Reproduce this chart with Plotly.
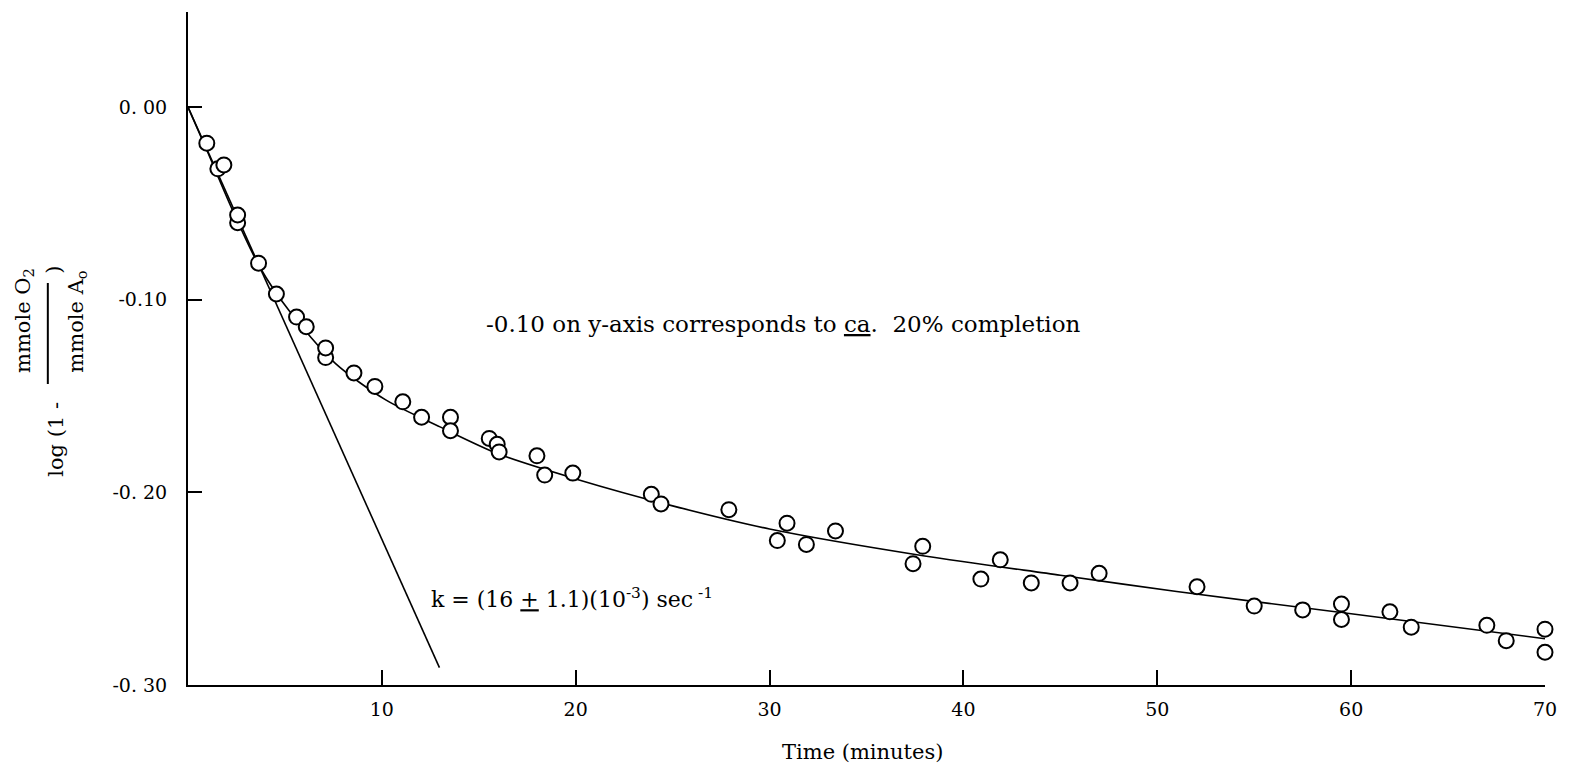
import plotly.graph_objects as go

# Measured points: time (minutes) vs log(1 - mmole O2 / mmole A0)
time_min = [0.97, 1.54, 1.85, 2.56, 2.56, 3.64, 4.56, 5.6, 6.1, 7.1, 7.1,
            8.56, 9.64, 11.08, 12.05, 13.54, 13.54, 15.54, 15.95, 16.05,
            18.0, 18.4, 19.85, 23.9, 24.4, 27.9, 30.4, 30.9, 31.9, 33.4,
            37.4, 37.9, 40.9, 41.9, 43.5, 45.5, 47.0, 52.05, 55.0, 57.5,
            59.5, 59.5, 62.0, 63.1, 67.0, 68.0, 70.0, 70.0]
log_frac = [-0.0187, -0.032, -0.030, -0.060, -0.056, -0.081, -0.097, -0.109,
            -0.114, -0.130, -0.125, -0.138, -0.145, -0.153, -0.161, -0.161,
            -0.168, -0.172, -0.175, -0.179, -0.181, -0.191, -0.190, -0.201,
            -0.206, -0.209, -0.225, -0.216, -0.227, -0.220, -0.237, -0.228,
            -0.245, -0.235, -0.247, -0.247, -0.242, -0.249, -0.259, -0.261,
            -0.258, -0.266, -0.262, -0.270, -0.269, -0.277, -0.271, -0.283]

# Smooth curve drawn through the data
fit_t = [0, 1, 2.3, 3.7, 5.2, 7.6, 10.2, 13, 16, 20, 25, 30, 38, 45, 51, 60, 70]
fit_y = [0, -0.023, -0.0535, -0.083, -0.1055, -0.133, -0.152, -0.166, -0.180,
         -0.193, -0.207, -0.219, -0.233, -0.243, -0.2515, -0.263, -0.276]

# Initial-slope line
tangent_t = [0, 12.97]
tangent_y = [0, -0.291]

x_tickvals = [10, 20, 30, 40, 50, 60, 70]
x_ticktext = ["10", "20", "30", "40", "50", "60", "70"]
y_tickvals = [0.0, -0.10, -0.20, -0.30]
y_ticktext = ["0. 00", "-0.10", "-0. 20", "-0. 30"]

FONT = "DejaVu Serif"
W, H = 1569, 767
L, R, T, B = 188, 16, 12, 82
PW, PH = W - L - R, H - T - B


def px(xp):
    return (xp - L) / PW


def py(yp):
    return (H - B - yp) / PH


fig = go.Figure()
fig.add_trace(go.Scatter(x=tangent_t, y=tangent_y, mode="lines",
                         line=dict(color="black", width=1.6),
                         showlegend=False, cliponaxis=False))
fig.add_trace(go.Scatter(x=fit_t, y=fit_y, mode="lines",
                         line=dict(color="black", width=1.6, shape="spline", smoothing=0.8),
                         showlegend=False, cliponaxis=False))
fig.add_trace(go.Scatter(x=time_min, y=log_frac, mode="markers",
                         marker=dict(symbol="circle", size=15, color="white",
                                     line=dict(color="black", width=2)),
                         showlegend=False, cliponaxis=False))

fig.update_xaxes(range=[0, 70], tickvals=x_tickvals, ticktext=x_ticktext,
                 ticks="inside", ticklen=15, tickwidth=2, tickcolor="black",
                 showline=True, linecolor="black", linewidth=2,
                 showgrid=False, zeroline=False, ticklabelstandoff=6,
                 tickfont=dict(family=FONT, size=19, color="black"))
fig.update_yaxes(range=[-0.30, 0.0494], tickvals=y_tickvals, ticktext=y_ticktext,
                 ticks="inside", ticklen=14, tickwidth=2, tickcolor="black",
                 showline=True, linecolor="black", linewidth=2,
                 showgrid=False, zeroline=False, ticklabelstandoff=15,
                 tickfont=dict(family=FONT, size=19, color="black"))

annotations = [
    dict(x=px(866), y=py(752), text="Time (minutes)", font=dict(size=21)),
    dict(x=px(787), y=py(324),
         text="-0.10 on y-axis corresponds to <u>ca</u>.  20% completion",
         font=dict(size=23)),
    dict(x=px(430), y=py(598), xanchor="left",
         text="k = (16 <u>+</u> 1.1)(10<sup>-3</sup>) sec<sup> -1</sup>",
         font=dict(size=22)),
    # rotated y-axis title pieces
    dict(x=px(55), y=py(439), text="log (1 -", textangle=-90, font=dict(size=21)),
    dict(x=px(23), y=py(320), text="mmole O<sub>2</sub>", textangle=-90, font=dict(size=21)),
    dict(x=px(76), y=py(322), text="mmole A<sub>o</sub>", textangle=-90, font=dict(size=21)),
    dict(x=px(53), y=py(270), text=")", textangle=-90, font=dict(size=21)),
]
for a in annotations:
    a.setdefault("xanchor", "center")
    a.update(xref="paper", yref="paper", showarrow=False, yanchor="middle")
    a["font"].update(family=FONT, color="black")

fig.update_layout(
    width=W, height=H,
    margin=dict(l=L, r=R, t=T, b=B),
    paper_bgcolor="white", plot_bgcolor="white",
    annotations=annotations,
    shapes=[dict(type="line", xref="paper", yref="paper",
                 x0=px(47), x1=px(47), y0=py(283), y1=py(384),
                 line=dict(color="black", width=2))],
)

fig.write_html("out.html")
